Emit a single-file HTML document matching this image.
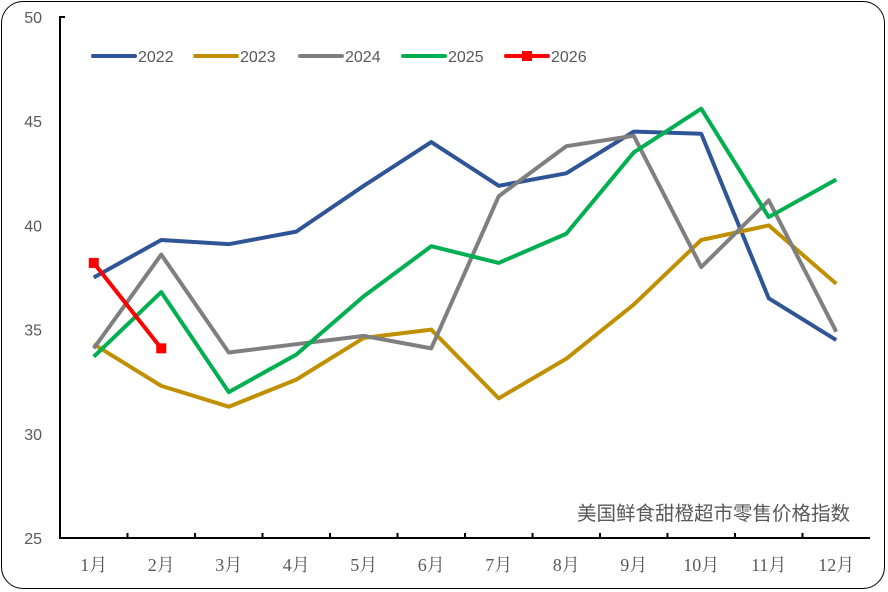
<!DOCTYPE html>
<html><head><meta charset="utf-8"><style>
body{margin:0;background:#fff}
#frame{position:absolute;left:1px;top:1px;width:884px;height:588px;border:1.5px solid #000;border-radius:22px;box-sizing:border-box}
</style></head><body>
<div id="frame"></div>
<svg id="c" width="888" height="592" style="position:absolute;left:0;top:0"></svg>
<script>
const categories=["1月","2月","3月","4月","5月","6月","7月","8月","9月","10月","11月","12月"];
const yTicks=[25,30,35,40,45,50];
const s2022=[37.5,39.3,39.1,39.7,41.9,44.0,41.9,42.5,44.5,44.4,36.5,34.5];
const s2023=[34.3,32.3,31.3,32.6,34.6,35.0,31.7,33.6,36.2,39.3,40.0,37.2];
const s2024=[34.1,38.6,33.9,34.3,34.7,34.1,41.4,43.8,44.3,38.0,41.2,34.9];
const s2025=[33.7,36.8,32.0,33.8,36.6,39.0,38.2,39.6,43.5,45.6,40.4,42.2];
const s2026=[38.2,34.1];
const seriesNames=["2022","2023","2024","2025","2026"];
const NS="http://www.w3.org/2000/svg",svg=document.getElementById('c');
const X0=60,X1=870,Y0=538,Y1=17,bw=(X1-X0)/categories.length;
const x=i=>X0+bw*(i+0.5),y=v=>Y0-(v-25)/25*(Y0-Y1);
function el(t,a,p){const e=document.createElementNS(NS,t);for(const k in a)e.setAttribute(k,a[k]);(p||svg).appendChild(e);return e;}
let ax=el('path',{d:`M65 ${Y1}H${X0}V${Y0}H${X1}`,fill:'none',stroke:'#000','stroke-width':2});

for(let i=1;i<categories.length;i++){let t=el('line',{x1:X0+bw*i,x2:X0+bw*i,y1:Y0,y2:Y0-5,stroke:'#000','stroke-width':2});
}
yTicks.forEach(v=>{let t=el('text',{x:42,y:y(v)+6,'text-anchor':'end','font-family':'Liberation Sans, sans-serif','font-size':16,fill:'#595959'});t.textContent=v;
});
categories.forEach((c,i)=>{let t=el('text',{x:x(i),y:571,'text-anchor':'middle','font-family':'Liberation Serif, Noto Serif CJK SC, serif','font-size':18,fill:'#595959'});t.textContent=c;
});
const colors=["#2F5597","#C09000","#7F7F7F","#00B050","#FF0000"];
[s2022,s2023,s2024,s2025,s2026].forEach((s,k)=>{
 let p=el('polyline',{points:s.map((v,i)=>x(i)+','+y(v)).join(' '),fill:'none',stroke:colors[k],'stroke-width':4,'stroke-linejoin':'round'});
 
 if(k==4)s.forEach((v,i)=>{let m=el('rect',{x:x(i)-5,y:y(v)-5,width:10,height:10,fill:colors[k]});
  });
});
const lx=[93,195,300,403,506];
seriesNames.forEach((n,k)=>{let g=el('g',{});
 el('line',{x1:lx[k],x2:lx[k]+42,y1:56,y2:56,stroke:colors[k],'stroke-width':4,'stroke-linecap':'round'},g);
 if(k==4)el('rect',{x:lx[k]+16,y:51,width:10,height:10,fill:colors[k]},g);
 let t=el('text',{x:lx[k]+45,y:62,'font-family':'Liberation Sans, sans-serif','font-size':16,fill:'#595959'},g);t.textContent=n;});
let ti=el('text',{x:850,y:520,'text-anchor':'end','font-family':'Liberation Sans, Noto Sans CJK SC, sans-serif','font-size':19.5,fill:'#595959'});ti.textContent='美国鲜食甜橙超市零售价格指数';

</script></body></html>
